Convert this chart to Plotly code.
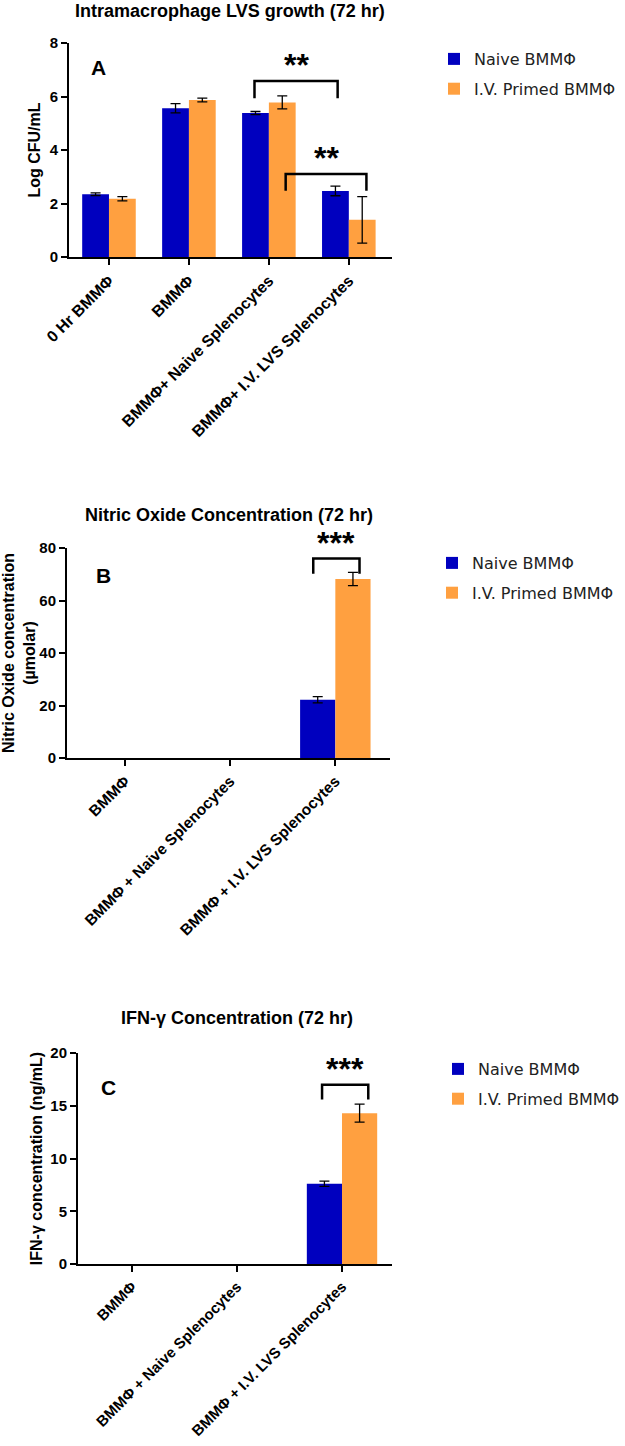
import plotly.graph_objects as go

# ---- data ----
cats_a = ["0 Hr BMMΦ", "BMMΦ", "BMMΦ+ Naive Splenocytes", "BMMΦ+ I.V. LVS Splenocytes"]
naive_a = [2.35, 5.56, 5.38, 2.47]
naive_a_err = [0.05, 0.17, 0.06, 0.18]
primed_a = [2.18, 5.87, 5.78, 1.39]
primed_a_err = [0.08, 0.07, 0.24, 0.87]

cats_bc = ["BMMΦ", "BMMΦ + Naive Splenocytes", "BMMΦ + I.V. LVS Splenocytes"]
# first two groups were not measured (no bars drawn)
naive_b = [None, None, 22.2]
naive_b_err = [None, None, 1.2]
primed_b = [None, None, 68.2]
primed_b_err = [None, None, 2.5]

naive_c = [None, None, 7.6]
naive_c_err = [None, None, 0.25]
primed_c = [None, None, 14.3]
primed_c_err = [None, None, 0.85]

series_names = ["Naive BMMΦ", "I.V. Primed BMMΦ"]
colors = ["#0000BF", "#FFA040"]

# significance brackets: (panel, x0, x1, y_top, y_leg, label)
brackets = [
    ("a", 1.82, 2.86, 6.58, 5.93, "**"),
    ("a", 2.21, 3.22, 3.10, 2.48, "**"),
    ("b", 1.79, 2.23, 76.0, 70.2, "***"),
    ("c", 1.81, 2.25, 17.0, 15.6, "***"),
]

W, H = 625, 1446
BOLD = dict(family="Liberation Sans, Arial", color="black", weight="bold")


def py(px):
    return 1 - px / H


fig = go.Figure()

panels = [
    ("a", "x", "y", "legend", cats_a, [naive_a, primed_a], [naive_a_err, primed_a_err]),
    ("b", "x2", "y2", "legend2", cats_bc, [naive_b, primed_b], [naive_b_err, primed_b_err]),
    ("c", "x3", "y3", "legend3", cats_bc, [naive_c, primed_c], [naive_c_err, primed_c_err]),
]

for key, xa, ya, leg, cats, vals, errs in panels:
    for i in range(2):
        fig.add_trace(go.Bar(
            x=cats, y=vals[i], name=series_names[i],
            marker=dict(color=colors[i], line=dict(width=0)),
            error_y=dict(type="data", array=errs[i], color="black", thickness=1.3, width=5),
            xaxis=xa, yaxis=ya, legend=leg, legendgroup=key + str(i),
        ))

axis_common = dict(showline=True, linecolor="black", linewidth=2, ticks="outside",
                   ticklen=6, tickwidth=2, tickcolor="black", showgrid=False,
                   zeroline=False, automargin=False)
ytick = dict(tickfont=dict(size=15, **BOLD))

fig.update_layout(
    width=W, height=H, margin=dict(l=0, r=0, t=0, b=0),
    plot_bgcolor="white", paper_bgcolor="white",
    barmode="group", bargap=0.33, bargroupgap=0,
    xaxis=dict(domain=[69 / W, 392 / W], anchor="y", range=[-0.5, 3.54],
               tickangle=-45, tickfont=dict(size=16, **BOLD), **axis_common),
    yaxis=dict(domain=[py(257), py(43)], anchor="x", range=[0, 8], dtick=2,
               title=dict(text="Log CFU/mL", font=dict(size=16, **BOLD), standoff=5),
               **ytick, **axis_common),
    xaxis2=dict(domain=[67 / W, 390 / W], anchor="y2", range=[-0.552, 2.52],
                tickangle=-45, tickfont=dict(size=15.5, **BOLD), **axis_common),
    yaxis2=dict(domain=[py(758), py(548)], anchor="x2", range=[0, 80], dtick=20,
                title=dict(text="Nitric Oxide concentration<br>(µmolar)",
                           font=dict(size=16, **BOLD), standoff=5),
                **ytick, **axis_common),
    xaxis3=dict(domain=[78 / W, 392 / W], anchor="y3", range=[-0.514, 2.476],
                tickangle=-45, tickfont=dict(size=15, **BOLD), **axis_common),
    yaxis3=dict(domain=[py(1264), py(1053)], anchor="x3", range=[0, 20], dtick=5,
                title=dict(text="IFN-γ concentration (ng/mL)", font=dict(size=16, **BOLD), standoff=4),
                **ytick, **axis_common),
)

leg_common = dict(font=dict(family="DejaVu Sans", size=16, color="#222"),
                  bgcolor="rgba(0,0,0,0)", traceorder="grouped", tracegroupgap=6,
                  xanchor="left", yanchor="top", itemwidth=30)
fig.update_layout(
    legend=dict(x=434 / W, y=py(42), **leg_common),
    legend2=dict(x=432 / W, y=py(546), **leg_common),
    legend3=dict(x=438 / W, y=py(1052), **leg_common),
)

# panel titles and letters
titles = [
    ("Intramacrophage LVS growth (72 hr)", 230, 11),
    ("Nitric Oxide Concentration (72 hr)", 229, 515),
    ("IFN-γ Concentration (72 hr)", 237, 1018),
]
for text, cx, cy in titles:
    fig.add_annotation(text=text, x=cx / W, y=py(cy), xref="paper", yref="paper",
                       showarrow=False, xanchor="center", yanchor="middle",
                       font=dict(size=18, **BOLD))

letters = [("A", 98, 67), ("B", 103, 576), ("C", 108, 1087)]
for text, cx, cy in letters:
    fig.add_annotation(text=text, x=cx / W, y=py(cy), xref="paper", yref="paper",
                       showarrow=False, xanchor="center", yanchor="middle",
                       font=dict(size=21, **BOLD))

axmap = {"a": ("x", "y"), "b": ("x2", "y2"), "c": ("x3", "y3")}
for key, x0, x1, ytop, yleg, label in brackets:
    xr, yr = axmap[key]
    fig.add_shape(type="path", xref=xr, yref=yr,
                  path=f"M {x0},{yleg} L {x0},{ytop} L {x1},{ytop} L {x1},{yleg}",
                  line=dict(color="black", width=2.5))
    fig.add_annotation(text=label, x=(x0 + x1) / 2, y=ytop, xref=xr, yref=yr,
                       showarrow=False, xanchor="center", yanchor="bottom", yshift=-4,
                       font=dict(size=32, **BOLD))

fig.write_html("out.html", config={"displayModeBar": False},
               post_script="document.body.style.margin='0';")
